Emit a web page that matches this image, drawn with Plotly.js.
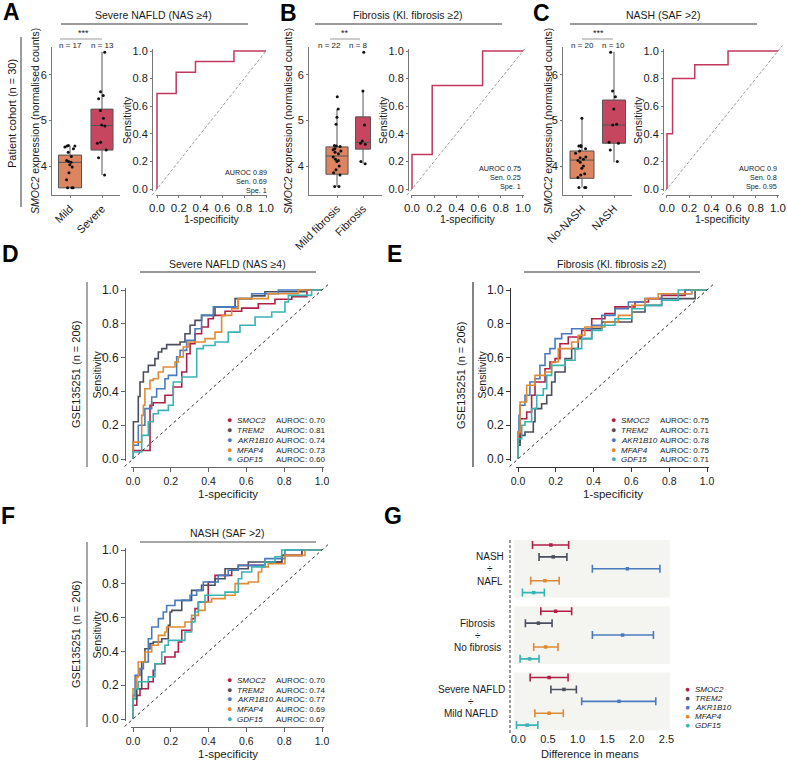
<!DOCTYPE html>
<html>
<head>
<meta charset="utf-8">
<script src="https://cdn.plot.ly/plotly-3.0.1.min.js"></script>
<style>
  html, body { margin: 0; padding: 0; background: #fff; }
  #fig { width: 787px; height: 766px; }
</style>
</head>
<body>
<div id="fig"></div>
<script>
const W = 787, H = 766;
const FONT = 'Liberation Sans, Arial, sans-serif';

// ---------- A-C: patient cohort (boxplots + ROC) ----------
const topTitles = ['Severe NAFLD (NAS \u22654)', 'Fibrosis (Kl. fibrosis \u22652)', 'NASH (SAF >2)'];

const groupsA = ['Mild', 'Severe'];
const nLabelsA = ['n = 17', 'n = 13'];
const q1A = [3.52, 4.35], medA = [4.08, 4.89], q3A = [4.24, 5.25], loA = [3.52, 3.80], hiA = [4.45, 6.51];
const ptsA_mild = [4.45, 4.44, 4.44, 4.42, 4.38, 4.30, 4.21, 4.12, 4.10, 4.08, 4.03, 3.98, 3.85, 3.70, 3.52, 3.52, 3.52];
const ptsA_severe = [6.50, 5.63, 5.55, 5.48, 5.22, 5.05, 4.90, 4.88, 4.52, 4.50, 4.35, 4.18, 3.80];
const rocA_x = [0, 0, 0.176, 0.176, 0.353, 0.353, 0.706, 0.706, 1];
const rocA_y = [0, 0.692, 0.692, 0.846, 0.846, 0.923, 0.923, 1, 1];
const statsA = ['AUROC 0.89', 'Sen. 0.69', 'Spe. 1'];

const groupsB = ['Mild fibrosis', 'Fibrosis'];
const nLabelsB = ['n = 22', 'n = 8'];
const q1B = [3.82, 4.37], medB = [4.22, 4.52], q3B = [4.42, 5.08], loB = [3.55, 4.05], hiB = [5.25, 5.67];
const ptsB_mild = [5.52, 5.25, 5.07, 4.92, 4.45, 4.44, 4.43, 4.38, 4.36, 4.33, 4.30, 4.27, 4.20, 4.15, 4.12, 4.10, 4.00, 3.92, 3.85, 3.80, 3.55, 3.55];
const ptsB_fib = [6.50, 5.65, 4.90, 4.55, 4.50, 4.48, 4.10, 4.05];
const rocB_x = [0, 0, 0.182, 0.182, 0.636, 0.636, 1];
const rocB_y = [0, 0.25, 0.25, 0.75, 0.75, 1, 1];
const statsB = ['AUROC 0.75', 'Sen. 0.25', 'Spe. 1'];

const groupsC = ['No-NASH', 'NASH'];
const nLabelsC = ['n = 20', 'n = 10'];
const q1C = [3.73, 4.50], medC = [4.13, 4.90], q3C = [4.33, 5.45], loC = [3.53, 4.08], hiC = [5.05, 6.51];
const ptsC_no = [5.05, 4.45, 4.44, 4.43, 4.38, 4.33, 4.28, 4.20, 4.18, 4.15, 4.12, 4.08, 4.00, 3.95, 3.83, 3.80, 3.75, 3.53, 3.53, 3.53];
const ptsC_nash = [6.50, 5.65, 5.52, 5.25, 4.92, 4.90, 4.52, 4.50, 4.35, 4.10];
const rocC_x = [0, 0, 0.05, 0.05, 0.25, 0.25, 0.55, 0.55, 1];
const rocC_y = [0, 0.4, 0.4, 0.8, 0.8, 0.9, 0.9, 1, 1];
const statsC = ['AUROC 0.9', 'Sen. 0.8', 'Spe. 0.95'];

// ---------- D-F: GSE135251 ROC curves ----------
const genes = ['SMOC2', 'TREM2', 'AKR1B10', 'MFAP4', 'GDF15'];
const aurocD = ['0.70', '0.81', '0.74', '0.73', '0.60'];
const aurocE = ['0.75', '0.71', '0.78', '0.75', '0.71'];
const aurocF = ['0.70', '0.74', '0.77', '0.69', '0.67'];

const dSmoc2X = [0, 0, 0.09, 0.107, 0.169, 0.213, 0.258, 0.284, 0.302, 0.328, 0.363, 0.398, 0.425, 0.487, 0.575, 0.663, 0.751, 0.84, 0.92, 1];
const dSmoc2Y = [0, 0.03, 0.05, 0.318, 0.333, 0.377, 0.426, 0.515, 0.623, 0.682, 0.741, 0.781, 0.83, 0.85, 0.874, 0.893, 0.919, 0.945, 0.96, 1];
const dTrem2X = [0, 0.002, 0.028, 0.037, 0.055, 0.081, 0.116, 0.134, 0.152, 0.178, 0.249, 0.275, 0.302, 0.328, 0.363, 0.434, 0.54, 0.628, 0.698, 0.91, 1];
const dTrem2Y = [0, 0.04, 0.22, 0.37, 0.456, 0.515, 0.554, 0.594, 0.633, 0.653, 0.677, 0.692, 0.741, 0.791, 0.82, 0.85, 0.9, 0.949, 0.965, 0.99, 1];
const dAkrX = [0, 0.028, 0.063, 0.099, 0.125, 0.169, 0.187, 0.231, 0.249, 0.284, 0.328, 0.363, 0.425, 0.557, 0.628, 0.769, 1];
const dAkrY = [0, 0.081, 0.2, 0.298, 0.367, 0.416, 0.475, 0.495, 0.604, 0.643, 0.702, 0.771, 0.85, 0.9, 0.949, 0.978, 1];
const dMfapX = [0, 0.046, 0.055, 0.063, 0.09, 0.107, 0.134, 0.16, 0.222, 0.24, 0.266, 0.293, 0.381, 0.434, 0.469, 0.522, 0.557, 0.716, 0.875, 1];
const dMfapY = [0, 0.1, 0.258, 0.318, 0.416, 0.465, 0.475, 0.515, 0.544, 0.574, 0.604, 0.663, 0.692, 0.712, 0.751, 0.85, 0.889, 0.949, 0.978, 1];
const dGdfX = [0, 0.046, 0.081, 0.107, 0.134, 0.187, 0.213, 0.258, 0.337, 0.372, 0.434, 0.504, 0.566, 0.646, 0.734, 0.804, 0.822, 0.945, 1];
const dGdfY = [0, 0.041, 0.14, 0.22, 0.268, 0.288, 0.318, 0.456, 0.485, 0.653, 0.672, 0.692, 0.751, 0.791, 0.84, 0.87, 0.929, 0.968, 1];

const eSmoc2X = [0, 0.011, 0.046, 0.072, 0.09, 0.143, 0.169, 0.196, 0.222, 0.266, 0.337, 0.39, 0.46, 0.513, 0.619, 0.69, 0.76, 0.884, 1];
const eSmoc2Y = [0, 0.1, 0.238, 0.278, 0.377, 0.456, 0.534, 0.574, 0.594, 0.682, 0.722, 0.761, 0.83, 0.86, 0.9, 0.929, 0.949, 0.968, 1];
const eTrem2X = [0, 0.011, 0.037, 0.081, 0.09, 0.125, 0.152, 0.178, 0.196, 0.249, 0.284, 0.319, 0.39, 0.443, 0.602, 0.672, 0.76, 0.937, 1];
const eTrem2Y = [0, 0.081, 0.14, 0.16, 0.22, 0.298, 0.327, 0.377, 0.456, 0.515, 0.594, 0.653, 0.712, 0.771, 0.811, 0.87, 0.909, 0.949, 1];
const eAkrX = [0, 0.005, 0.011, 0.037, 0.063, 0.09, 0.116, 0.143, 0.169, 0.196, 0.231, 0.284, 0.39, 0.443, 0.513, 0.584, 0.672, 0.76, 0.919, 1];
const eAkrY = [0, 0.16, 0.258, 0.318, 0.377, 0.456, 0.475, 0.554, 0.623, 0.653, 0.712, 0.741, 0.771, 0.791, 0.85, 0.889, 0.929, 0.949, 0.978, 1];
const eMfapX = [0, 0.011, 0.046, 0.09, 0.143, 0.178, 0.213, 0.284, 0.319, 0.354, 0.46, 0.531, 0.602, 0.672, 0.742, 0.919, 1];
const eMfapY = [0, 0.16, 0.337, 0.436, 0.495, 0.515, 0.574, 0.653, 0.692, 0.732, 0.781, 0.811, 0.85, 0.909, 0.949, 0.978, 1];
const eGdfX = [0, 0.02, 0.037, 0.072, 0.099, 0.134, 0.152, 0.178, 0.249, 0.302, 0.337, 0.39, 0.443, 0.513, 0.602, 0.672, 0.76, 0.848, 1];
const eGdfY = [0, 0.12, 0.2, 0.22, 0.298, 0.377, 0.416, 0.495, 0.554, 0.584, 0.653, 0.712, 0.761, 0.791, 0.83, 0.889, 0.909, 0.939, 1];

const fSmoc2X = [0, 0.02, 0.037, 0.081, 0.107, 0.116, 0.169, 0.222, 0.24, 0.258, 0.31, 0.328, 0.346, 0.398, 0.434, 0.522, 0.557, 0.698, 0.787, 0.893, 1];
const fSmoc2Y = [0, 0.081, 0.14, 0.179, 0.22, 0.288, 0.327, 0.367, 0.396, 0.456, 0.525, 0.594, 0.653, 0.692, 0.811, 0.85, 0.889, 0.909, 0.929, 0.968, 1];
const fTrem2X = [0, 0.02, 0.046, 0.063, 0.09, 0.107, 0.152, 0.187, 0.196, 0.205, 0.258, 0.31, 0.363, 0.434, 0.487, 0.61, 0.787, 0.893, 1];
const fTrem2Y = [0, 0.12, 0.179, 0.337, 0.416, 0.446, 0.456, 0.475, 0.554, 0.633, 0.643, 0.702, 0.761, 0.791, 0.83, 0.889, 0.929, 0.968, 1];
const fAkrX = [0, 0.011, 0.037, 0.055, 0.081, 0.099, 0.134, 0.16, 0.178, 0.222, 0.302, 0.337, 0.372, 0.451, 0.504, 0.557, 0.698, 0.804, 1];
const fAkrY = [0, 0.14, 0.258, 0.298, 0.337, 0.475, 0.544, 0.594, 0.633, 0.672, 0.702, 0.732, 0.761, 0.811, 0.85, 0.88, 0.909, 0.949, 1];
const fMfapX = [0, 0.02, 0.028, 0.063, 0.099, 0.134, 0.169, 0.178, 0.275, 0.31, 0.346, 0.381, 0.416, 0.487, 0.54, 0.61, 0.663, 0.681, 0.716, 0.804, 0.91, 1];
const fMfapY = [0, 0.179, 0.249, 0.337, 0.396, 0.436, 0.495, 0.515, 0.544, 0.574, 0.613, 0.643, 0.692, 0.712, 0.732, 0.801, 0.811, 0.87, 0.9, 0.919, 0.968, 1];
const fGdfX = [0, 0.011, 0.028, 0.081, 0.116, 0.152, 0.169, 0.187, 0.275, 0.31, 0.328, 0.346, 0.381, 0.487, 0.557, 0.575, 0.628, 0.698, 0.751, 0.787, 1];
const fGdfY = [0, 0.12, 0.179, 0.22, 0.249, 0.327, 0.396, 0.436, 0.465, 0.515, 0.574, 0.633, 0.692, 0.732, 0.751, 0.83, 0.87, 0.9, 0.929, 0.96, 1];

// ---------- G: difference in means ----------
const contrastTop = ['NASH', 'Fibrosis', 'Severe NAFLD'];
const contrastBottom = ['NAFL', 'No fibrosis', 'Mild NAFLD'];
const gMeanNash = [0.55, 0.59, 1.84, 0.45, 0.26];
const gLoNash   = [0.24, 0.35, 1.25, 0.21, 0.07];
const gHiNash   = [0.85, 0.82, 2.39, 0.69, 0.44];
const gMeanFib  = [0.63, 0.34, 1.76, 0.46, 0.19];
const gLoFib    = [0.38, 0.12, 1.25, 0.26, 0.03];
const gHiFib    = [0.90, 0.57, 2.28, 0.67, 0.35];
const gMeanSev  = [0.52, 0.77, 1.70, 0.52, 0.15];
const gLoSev    = [0.20, 0.55, 1.07, 0.28, -0.03];
const gHiSev    = [0.84, 0.98, 2.32, 0.76, 0.33];

// ---------- styles ----------
const geneColors = ['#b01f45', '#4b4f5d', '#4a7bbd', '#e08a35', '#38b3b6'];
const boxFills = ['#dd8461', '#c6465f'];
const rocColor = '#c2375c';
const TXT = '#1a1a1a';

const px = v => v / W;
const py = v => 1 - v / H;
const sfx = n => (n === 1 ? '' : String(n));

const traces = [];
const shapes = [];
const annotations = [];
const layout = {
  width: W, height: H,
  margin: {l: 0, r: 0, t: 0, b: 0},
  paper_bgcolor: '#fff', plot_bgcolor: 'rgba(0,0,0,0)',
  showlegend: false, boxmode: 'overlay',
  font: {family: FONT, color: TXT},
  shapes: shapes, annotations: annotations
};

function note(text, x, y, size, extra) {
  return Object.assign({
    text: text, x: px(x), y: py(y), xref: 'paper', yref: 'paper', showarrow: false,
    xanchor: 'center', yanchor: 'middle', borderpad: 0, font: {family: FONT, size: size, color: TXT}
  }, extra || {});
}
function paperLine(x0, y0, x1, y1, color, width, dash) {
  shapes.push({type: 'line', xref: 'paper', yref: 'paper', x0: px(x0), y0: py(y0), x1: px(x1), y1: py(y1),
    line: {color: color, width: width, dash: dash || 'solid'}});
}

// ---- boxplot panels ----
function boxPanel(n, groups, q1, med, q3, lo, hi, pts, widths, xDom, xRange, nLabels, nX, sigText, sigX, bracket) {
  const s = sfx(n);
  layout['xaxis' + s] = {
    domain: [px(xDom[0]), px(xDom[1])], range: xRange, type: 'category', categoryarray: groups,
    anchor: 'y' + s, showline: true, linecolor: '#777', linewidth: 1, ticks: 'outside', ticklen: 2,
    tickcolor: '#777', tickangle: -45, tickfont: {size: 11, color: TXT}, showgrid: false, zeroline: false
  };
  layout['yaxis' + s] = {
    domain: [py(195), py(47)], range: [3.363, 6.615], dtick: 1, tick0: 0, anchor: 'x' + s,
    showline: true, linecolor: '#777', linewidth: 1, ticks: 'outside', ticklen: 2, tickcolor: '#777',
    tickfont: {size: 11, color: TXT}, showgrid: false, zeroline: false
  };
  groups.forEach((g, i) => {
    traces.push({
      type: 'box', x: [g], q1: [q1[i]], median: [med[i]], q3: [q3[i]],
      lowerfence: [lo[i]], upperfence: [hi[i]], boxpoints: false, width: widths[i],
      fillcolor: boxFills[i], line: {color: '#555', width: 1}, whiskerwidth: 0,
      xaxis: 'x' + s, yaxis: 'y' + s, hoverinfo: 'skip'
    });
    traces.push({
      type: 'box', x: pts[i].map(() => g), y: pts[i], boxpoints: 'all', jitter: 0.55, pointpos: 0,
      width: widths[i], fillcolor: 'rgba(0,0,0,0)', line: {width: 0, color: 'rgba(0,0,0,0)'},
      marker: {color: '#111', size: 3}, xaxis: 'x' + s, yaxis: 'y' + s, hoverinfo: 'skip'
    });
    annotations.push(note(nLabels[i], nX[i], 46, 8));
  });
  annotations.push(note(sigText, sigX, 33, 9));
  paperLine(bracket[0], 39, bracket[1], 39, '#999', 1);
}

boxPanel(1, groupsA, q1A, medA, q3A, loA, hiA, [ptsA_mild, ptsA_severe], [0.72, 0.69], [52, 120], [-0.5625, 1.5625],
  nLabelsA, [70, 102], '***', 83, [60, 102]);
boxPanel(3, groupsB, q1B, medB, q3B, loB, hiB, [ptsB_mild, ptsB_fib], [0.85, 0.58], [309, 382], [-1.077, 1.73],
  nLabelsB, [329, 358], '**', 345, [330, 360]);
boxPanel(5, groupsC, q1C, medC, q3C, loC, hiC, [ptsC_no, ptsC_nash], [0.75, 0.72], [563, 632], [-0.594, 1.5625],
  nLabelsC, [582, 613], '***', 598, [582, 613]);

// ---- ROC axes helper ----
const PAD = 0.012;
const dom = v => (v + PAD) / (1 + 2 * PAD);
function rocAxes(n, x0, x1, y0, y1, axX, axY, o) {
  const s = sfx(n), ux = x1 - x0, uy = y0 - y1;
  const common = {
    range: [-PAD, 1 + PAD], anchor: 'free', dtick: 0.2, tick0: 0, tickformat: '.1f',
    showline: true, linecolor: o.lc, linewidth: 1, ticks: 'outside', ticklen: o.tl, tickcolor: o.lc,
    showgrid: false, zeroline: false
  };
  layout['xaxis' + s] = Object.assign({}, common, {
    domain: [px(x0 - PAD * ux), px(x1 + PAD * ux)], position: py(axY), tickfont: {size: o.xfs, color: TXT}
  });
  layout['yaxis' + s] = Object.assign({}, common, {
    domain: [py(y0 + PAD * uy), py(y1 - PAD * uy)], position: px(axX), tickfont: {size: o.yfs, color: TXT}
  });
  shapes.push({
    type: 'line', xref: 'x' + s + ' domain', yref: 'y' + s + ' domain',
    x0: dom(-0.045), y0: dom(-0.045), x1: dom(o.diagEnd), y1: dom(o.diagEnd),
    line: {color: o.dc, width: 1, dash: o.dash}
  });
}

// ---- small ROC panels ----
const smallRoc = [
  {n: 2, x: rocA_x, y: rocA_y, x0: 157, x1: 266, axX: 152, stats: statsA, sx: 268, sy: [173, 182, 191], diagEnd: 1.0},
  {n: 4, x: rocB_x, y: rocB_y, x0: 412, x1: 523, axX: 408, stats: statsB, sx: 522, sy: [168, 177, 186], diagEnd: 1.03},
  {n: 6, x: rocC_x, y: rocC_y, x0: 667, x1: 778, axX: 663, stats: statsC, sx: 778, sy: [168, 177, 186], diagEnd: 1.04}
];
smallRoc.forEach(r => {
  rocAxes(r.n, r.x0, r.x1, 189, 51, r.axX, 195,
    {lc: '#777', tl: 2, xfs: 11.5, yfs: 11, dc: '#9a9a9a', dash: '3px,2px', diagEnd: r.diagEnd});
  traces.push({
    type: 'scatter', mode: 'lines', x: r.x, y: r.y, line: {color: rocColor, width: 1.5},
    xaxis: 'x' + r.n, yaxis: 'y' + r.n, hoverinfo: 'skip'
  });
  r.stats.forEach((t, i) => annotations.push(note(t, r.sx, r.sy[i], 7.2, {xanchor: 'right'})));
  const cx = (r.x0 + r.x1) / 2;
  annotations.push(note('1-specificity', cx, 219, 10.5));
  annotations.push(note('Sensitivity', r.axX - 25, 120, 10.5, {textangle: -90}));
});

// ---- large ROC panels ----
const bigRoc = [
  {n: 7, xs: [dSmoc2X, dTrem2X, dAkrX, dMfapX, dGdfX], ys: [dSmoc2Y, dTrem2Y, dAkrY, dMfapY, dGdfY],
   x0: 133, x1: 322, y0: 459, y1: 290, axX: 125, axY: 467, auroc: aurocD, lc: '#666',
   legX: 229, legRows: [420, 430, 440, 450, 459]},
  {n: 8, xs: [eSmoc2X, eTrem2X, eAkrX, eMfapX, eGdfX], ys: [eSmoc2Y, eTrem2Y, eAkrY, eMfapY, eGdfY],
   x0: 518, x1: 707, y0: 459, y1: 290, axX: 510, axY: 467, auroc: aurocE, lc: '#333',
   legX: 613, legRows: [420, 430, 440, 450, 459]},
  {n: 9, xs: [fSmoc2X, fTrem2X, fAkrX, fMfapX, fGdfX], ys: [fSmoc2Y, fTrem2Y, fAkrY, fMfapY, fGdfY],
   x0: 133, x1: 322, y0: 719, y1: 550, axX: 125, axY: 727, auroc: aurocF, lc: '#666',
   legX: 229, legRows: [680, 690, 699, 709, 719]}
];
bigRoc.forEach(r => {
  rocAxes(r.n, r.x0, r.x1, r.y0, r.y1, r.axX, r.axY,
    {lc: r.lc, tl: 4, xfs: 10.5, yfs: 12, dc: '#333', dash: '3px,3px', diagEnd: 1.04});
  genes.forEach((g, i) => {
    traces.push({
      type: 'scatter', mode: 'lines', x: r.xs[i], y: r.ys[i],
      line: {color: geneColors[i], width: 1.6, shape: 'vh'},
      xaxis: 'x' + r.n, yaxis: 'y' + r.n, hoverinfo: 'skip'
    });
  });
  genes.forEach((g, i) => {
    const y = r.legRows[i];
    annotations.push(note('\u25CF', r.legX, y, 9, {font: {family: FONT, size: 9, color: geneColors[i]}}));
    annotations.push(note('<i>' + g + '</i>', r.legX + 7, y, 8, {xanchor: 'left'}));
    annotations.push(note('AUROC: ' + r.auroc[i], r.legX + 46, y, 8, {xanchor: 'left'}));
  });
  const cx = (r.x0 + r.x1) / 2, cy = (r.y0 + r.y1) / 2;
  annotations.push(note('1-specificity', cx, r.axY + 27, 11.5));
  annotations.push(note('Sensitivity', r.axX - 29, cy, 10.5, {textangle: -90}));
});

// ---- G: forest plot ----
const STRIDE = 5.57;
layout.xaxis10 = {
  domain: [px(510), px(670)], range: [-0.14, 2.56], anchor: 'free', position: py(731),
  dtick: 0.5, tick0: 0, tickformat: '.1f', showline: false, ticks: '', showgrid: false, zeroline: false,
  tickfont: {size: 11, color: TXT}
};
layout.yaxis10 = {
  domain: [py(735), py(536)], range: [15.97, -0.756], anchor: 'x10',
  showticklabels: false, showline: false, showgrid: false, zeroline: false, ticks: ''
};
const gMeans = [gMeanNash, gMeanFib, gMeanSev];
const gLos = [gLoNash, gLoFib, gLoSev];
const gHis = [gHiNash, gHiFib, gHiSev];
contrastTop.forEach((t, g) => {
  shapes.push({type: 'rect', xref: 'x10', yref: 'y10', x0: -0.073, x1: 2.556,
    y0: g * STRIDE - 0.42, y1: g * STRIDE + 4.43, fillcolor: '#f4f4f1', line: {width: 0}, layer: 'below'});
});
genes.forEach((gene, i) => {
  const xs = gMeans.map(m => m[i]);
  traces.push({
    type: 'scatter', mode: 'markers', x: xs, y: [0, 1, 2].map(g => g * STRIDE + i),
    marker: {symbol: 'square', size: 3.5, color: geneColors[i]},
    error_x: {type: 'data', symmetric: false,
      array: gHis.map((h, g) => h[i] - gMeans[g][i]),
      arrayminus: gLos.map((l, g) => gMeans[g][i] - l[i]),
      color: geneColors[i], thickness: 1.6, width: 4},
    xaxis: 'x10', yaxis: 'y10', hoverinfo: 'skip'
  });
});
const labelCenters = [490, 477.5, 471];
contrastTop.forEach((t, g) => {
  const base = g * STRIDE;
  [[t, 1.0], ['\u00F7', 2], [contrastBottom[g], 3.05]].forEach(([txt, row]) => {
    annotations.push({text: txt, x: px(labelCenters[g]), xref: 'paper', y: base + row, yref: 'y10',
      showarrow: false, xanchor: 'center', yanchor: 'middle', borderpad: 0,
      font: {family: FONT, size: 10, color: TXT}});
  });
});
shapes.push({type: 'line', xref: 'x10 domain', yref: 'paper', x0: 0, x1: 0, y0: py(540), y1: py(733),
  line: {color: '#333', width: 1, dash: '3px,2px'}});
annotations.push(note('Difference in means', 590, 754, 11));
const gLegRows = [689, 698, 707, 716, 725];
genes.forEach((g, i) => {
  annotations.push(note('\u25CF', 687, gLegRows[i], 8.5, {font: {family: FONT, size: 8.5, color: geneColors[i]}}));
  annotations.push(note('<i>' + g + '</i>', 694, gLegRows[i], 8, {xanchor: 'left'}));
});

// ---- panel titles, side labels and letters ----
annotations.push(note(topTitles[0], 153, 15, 10.5));
annotations.push(note(topTitles[1], 408, 15, 10.5));
annotations.push(note(topTitles[2], 663, 15, 10.5));
paperLine(61, 24, 248, 24, '#9b9b9b', 2);
paperLine(315, 24, 502, 24, '#9b9b9b', 2);
paperLine(570, 24, 757, 24, '#9b9b9b', 2);
annotations.push(note('Patient cohort (n = 30)', 12, 114, 11, {textangle: -90}));
paperLine(21, 37, 21, 207, '#9b9b9b', 2);
[35, 288, 548].forEach(x => annotations.push(
  note('<i>SMOC2</i> expression (normalised counts)', x, 121, 10.5, {textangle: -90})));

annotations.push(note(topTitles[0], 227, 264, 10.5));
annotations.push(note(topTitles[1], 612, 264, 10.5));
annotations.push(note(topTitles[2], 227, 533, 10.5));
paperLine(140, 272, 316, 272, '#333', 1);
paperLine(524, 272, 700, 272, '#333', 1);
paperLine(140, 542, 316, 542, '#888', 1.5);
annotations.push(note('GSE135251 (n = 206)', 76, 375, 11, {textangle: -90}));
annotations.push(note('GSE135251 (n = 206)', 461, 375, 11, {textangle: -90}));
annotations.push(note('GSE135251 (n = 206)', 76, 635, 11, {textangle: -90}));
paperLine(87, 282, 87, 467, '#888', 1.5);
paperLine(473, 282, 473, 467, '#333', 1.2);
paperLine(87, 542, 87, 727, '#888', 1.5);

const letters = [['A', 11, 12], ['B', 288, 13], ['C', 541, 13], ['D', 10, 254], ['E', 395, 254], ['F', 8, 516], ['G', 393, 516]];
letters.forEach(([t, x, y]) => annotations.push(
  note('<b>' + t + '</b>', x, y, 23, {font: {family: FONT, size: 23, color: '#000'}})));

Plotly.newPlot('fig', traces, layout, {displayModeBar: false, staticPlot: true});
</script>
</body>
</html>
